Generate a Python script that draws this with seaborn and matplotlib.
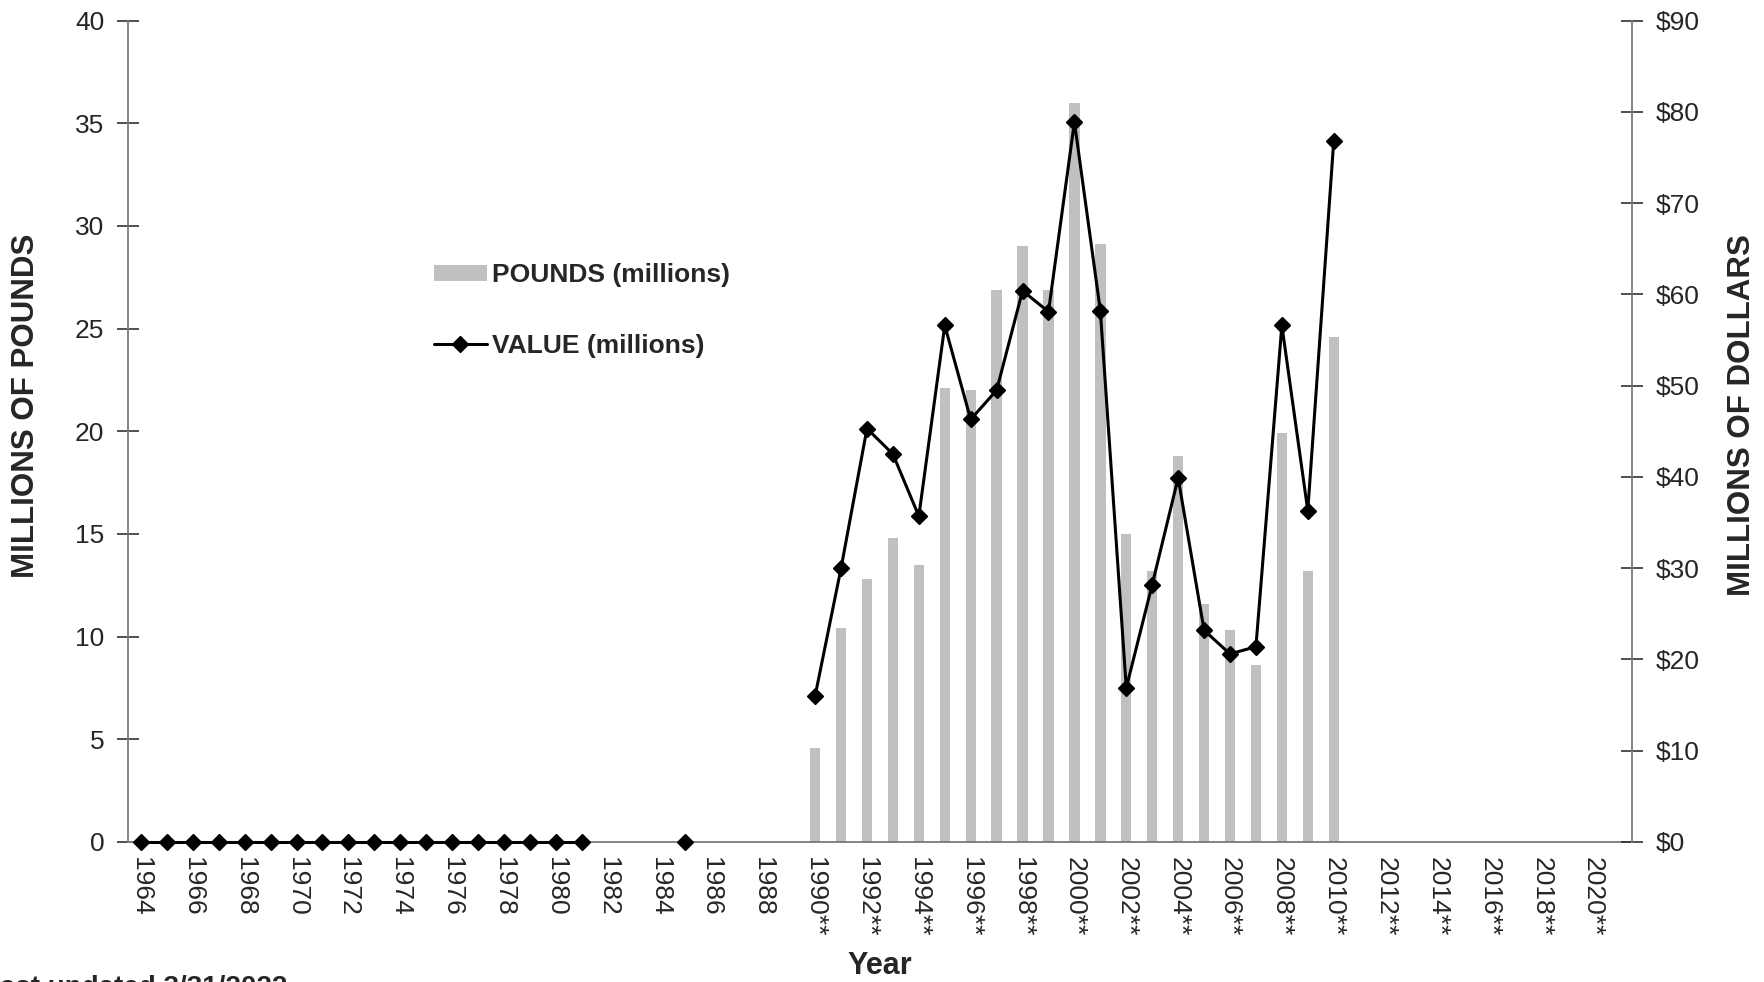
import numpy as np
import pandas as pd
import seaborn as sns
import matplotlib.pyplot as plt
from matplotlib.patches import Patch
from matplotlib.lines import Line2D
from matplotlib.ticker import FixedLocator, FuncFormatter, MultipleLocator

# ------------------------------------------------------------------
# data
# ------------------------------------------------------------------
YEARS = list(range(1964, 2022))
NA = np.nan

# millions of pounds (left axis)
POUNDS = ([0] * 18                      # 1964-1981
          + [NA, NA, NA]                # 1982-1984
          + [0]                         # 1985
          + [NA, NA, NA, NA]            # 1986-1989
          + [4.6, 10.4, 12.8, 14.8, 13.5, 22.1, 22.0, 26.9, 29.0, 26.9,
             36.0, 29.1, 15.0, 13.2, 18.8, 11.6, 10.3, 8.6, 19.9, 13.2,
             24.6]                      # 1990-2010
          + [NA] * 11)                  # 2011-2021

# millions of dollars (right axis)
VALUE = ([0] * 18
         + [NA, NA, NA]
         + [0]
         + [NA, NA, NA, NA]
         + [16.0, 30.0, 45.3, 42.5, 35.7, 56.6, 46.3, 49.5, 60.4, 58.1,
            78.9, 58.2, 16.9, 28.2, 39.9, 23.2, 20.6, 21.4, 56.6, 36.3,
            76.8]
         + [NA] * 11)

TICK_LABELS = [str(y) + ("**" if y >= 1990 else "") for y in YEARS[::2]]

LEGEND_LABELS = ["POUNDS (millions)", "VALUE (millions)"]
BAR_COLOR = "#C0C0C0"
SPINE_COLOR = "#7a7a7a"

# ------------------------------------------------------------------
sns.set_style("white")
plt.rcParams["font.family"] = ["Liberation Sans", "DejaVu Sans"]

df = pd.DataFrame({"year": YEARS, "pounds": POUNDS, "value": VALUE})
# consecutive runs of known values are drawn as separate line pieces
df["seg"] = df["value"].isna().cumsum()
df_line = df.dropna(subset=["value"])

fig = plt.figure(figsize=(17.65, 9.82), dpi=100)
ax = fig.add_axes([0.0725, 0.1426, 0.9246 - 0.0725, 0.979 - 0.1426])

sns.barplot(data=df.dropna(subset=["pounds"]), x="year", y="pounds",
            native_scale=True, width=0.4, color=BAR_COLOR, saturation=1,
            errorbar=None, linewidth=0, ax=ax)

ax2 = ax.twinx()
sns.lineplot(data=df_line, x="year", y="value", units="seg", estimator=None,
             color="black", linewidth=2.2, marker="D", markersize=8.5,
             markeredgecolor="black", markeredgewidth=1, clip_on=False,
             ax=ax2)

# x axis: ticks between years, labels every other year
ax.set_xlim(YEARS[0] - 0.5, YEARS[-1] + 0.5)
ax.xaxis.set_major_locator(FixedLocator(np.arange(YEARS[0] - 0.5, YEARS[-1] + 1, 1)))
ax.xaxis.set_major_formatter(FuncFormatter(lambda v, p: ""))
ax.xaxis.set_minor_locator(FixedLocator(YEARS[::2]))
ax.set_xticks(YEARS[::2], TICK_LABELS, minor=True)
ax.tick_params(axis="x", which="major", direction="inout", length=14,
               width=1.2, color="#333333")
ax.tick_params(axis="x", which="minor", length=0, pad=11, labelsize=19,
               labelrotation=-90)
for lbl in ax.get_xticklabels(minor=True):
    lbl.set_va("top")
    lbl.set_ha("center")

# left axis
ax.set_ylim(0, 40)
ax.yaxis.set_major_locator(MultipleLocator(5))
ax.tick_params(axis="y", direction="inout", length=16, width=1.2,
               color="#333333", labelsize=19, pad=9)

# right axis
ax2.set_ylim(0, 90)
ax2.yaxis.set_major_locator(MultipleLocator(10))
ax2.yaxis.set_major_formatter(FuncFormatter(lambda v, p: f"${v:.0f}"))
ax2.tick_params(axis="y", direction="inout", length=16, width=1.2,
                color="#333333", labelsize=19, pad=9)

for a in (ax, ax2):
    a.grid(False)
    a.spines["top"].set_visible(False)
    for s in ("left", "right", "bottom"):
        a.spines[s].set_color(SPINE_COLOR)
        a.spines[s].set_linewidth(1.3)
ax.spines["right"].set_visible(False)
ax2.spines["left"].set_visible(False)
ax2.spines["bottom"].set_visible(False)

ax.set_xlabel("Year", fontsize=22, fontweight="bold")
ax.xaxis.set_label_coords(0.5, -0.133)
ax.set_ylabel("MILLIONS OF POUNDS", fontsize=22.5, fontweight="bold",
              va="center", ha="center")
ax.yaxis.set_label_coords(-0.0678, 0.531)
ax2.set_ylabel("MILLIONS OF DOLLARS", fontsize=22.5, fontweight="bold",
               rotation=90, va="center", ha="center")
ax2.yaxis.set_label_coords(1.073, 0.52)

handles = [Patch(facecolor=BAR_COLOR, edgecolor="none"),
           Line2D([], [], color="black", linewidth=2.2, marker="D",
                  markersize=8.5, markeredgecolor="black")]
leg = fig.legend(handles, LEGEND_LABELS, loc="center left",
                 bbox_to_anchor=(0.2459, 0.6838), frameon=False,
                 prop={"size": 19, "weight": "bold"}, handlelength=2.0,
                 handleheight=0.6, handletextpad=0.2, labelspacing=1.75,
                 borderpad=0, borderaxespad=0)

fig.text(-0.0095, -0.0135, "Last updated 3/31/2022", fontsize=20,
         fontweight="bold", va="baseline", ha="left")

fig.savefig("out.png", dpi=100)
